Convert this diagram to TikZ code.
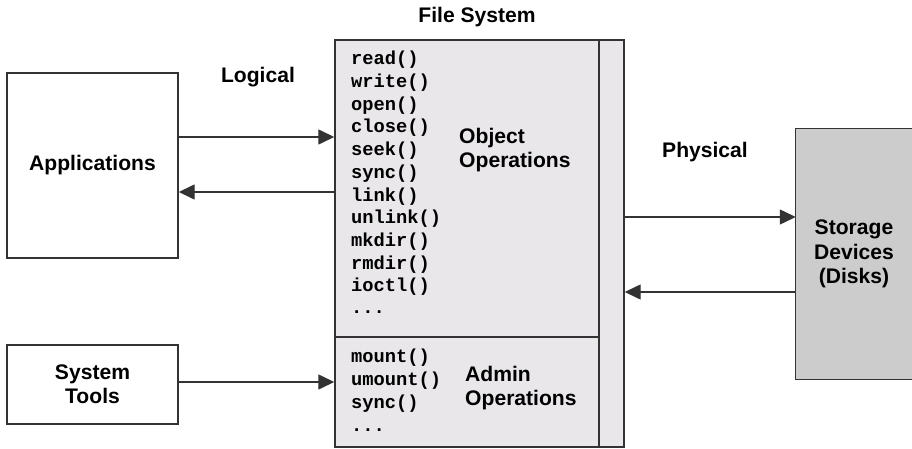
\documentclass[tikz,border=0pt]{standalone}
\usepackage{fontspec}
\setmainfont{Liberation Sans}
\setmonofont{Liberation Mono}
\usetikzlibrary{arrows.meta}
\definecolor{fsgray}{HTML}{E9E7E9}
\definecolor{diskgray}{HTML}{CCCCCC}
\definecolor{edgegray}{HTML}{333333}

\begin{document}
\begin{tikzpicture}
  [x=0.03cm,y=-0.03cm,
   every node/.style={inner sep=0pt,align=center,font=\fontsize{18}{20.5}\selectfont\bfseries},
   box/.style={draw=edgegray,line width=1.2pt,fill=white},
   fsbox/.style={box,fill=fsgray},
   code/.style={anchor=west,align=left,font=\fontsize{16}{19}\selectfont\ttfamily\bfseries},
   arr/.style={draw=edgegray,line width=1.2pt,-{Triangle[length=0.48cm,width=0.45cm]}}]
  \useasboundingbox (0,0) rectangle (912,449);

  \node[box,minimum width=5.13cm,minimum height=5.55cm] (apps) at (92.5,165.5) {Applications};
  \node[box,minimum width=5.13cm,minimum height=2.37cm] (tools) at (92.5,384.5) {System\\Tools};

  \node (fstitle) at (477,17) {File System};
  \node[fsbox,minimum width=7.92cm,minimum height=8.91cm] (obj) at (467,188.5) {};
  \node[fsbox,minimum width=7.92cm,minimum height=3.3cm] (adm) at (467,392) {};
  \node[fsbox,minimum width=0.75cm,minimum height=12.21cm] (strip) at (611.5,243.5) {};

  \foreach \fn [count=\i] in {read(),write(),open(),close(),seek(),sync(),link(),unlink(),mkdir(),rmdir(),ioctl()}
    \node[code] (call\i) at (351,37.3+22.7*\i) {\fn};
  \node[code] (calldots) at (351,312) {...};
  \node[anchor=west,align=left] (objlabel) at (459,150.5) {Object\\Operations};

  \foreach \fn [count=\i] in {mount(),umount(),sync()}
    \node[code] (admcall\i) at (351,335+23*\i) {\fn};
  \node[code] (admdots) at (351,430) {...};
  \node[anchor=west,align=left] (admlabel) at (465,388.5) {Admin\\Operations};

  \node[fill=diskgray,minimum width=3.48cm,minimum height=7.5cm,
        font=\fontsize{18}{21}\selectfont\bfseries] (disk) at (854,254) {Storage\\Devices\\(Disks)};
  \draw[edgegray,line width=1.2pt] (disk.north east) -- (disk.north west) -- (disk.south west) -- (disk.south east);

  \node (logical) at (258,77) {Logical};
  \node (physical) at (705,152) {Physical};

  \foreach \from/\to/\y in {apps.east/obj.west/137, obj.west/apps.east/192, tools.east/adm.west/382,
                            strip.east/disk.west/217, disk.west/strip.east/292}
    \draw[arr] (\from |- 0,\y) -- (\to |- 0,\y);

\end{tikzpicture}
\end{document}
